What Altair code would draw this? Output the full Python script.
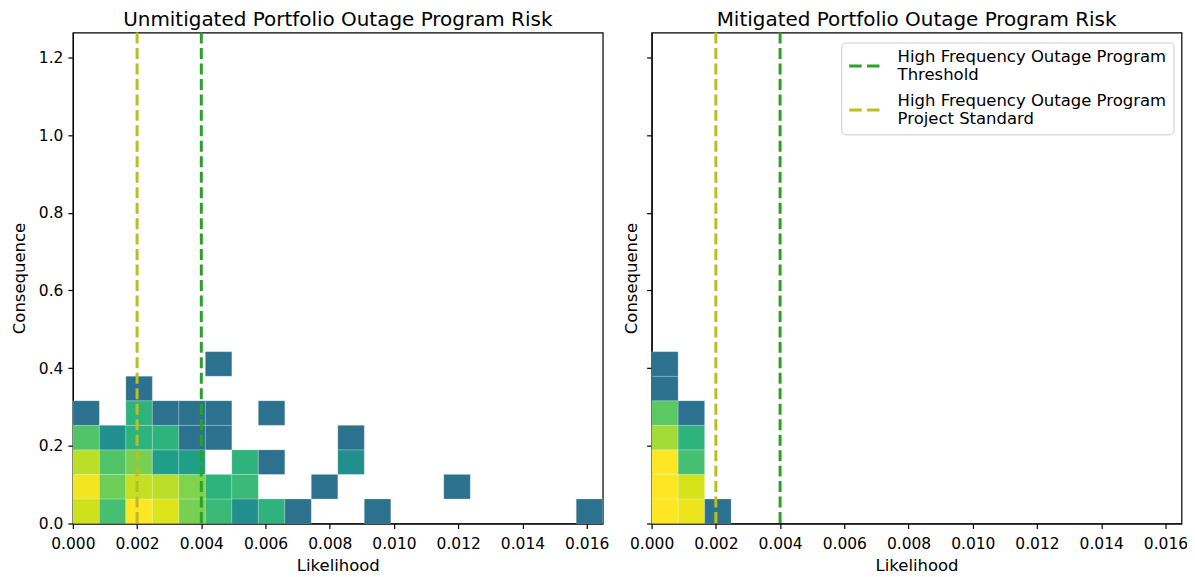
import altair as alt
import pandas as pd

# Histogram definition (bin ranges and number of bins)
X_RANGE = [0.0, 0.0165]
Y_RANGE = [0.0, 1.264]
N_BINS_X = 20
N_BINS_Y = 20

X_TICKS = [0.000, 0.002, 0.004, 0.006, 0.008, 0.010, 0.012, 0.014, 0.016]
Y_TICKS = [0.0, 0.2, 0.4, 0.6, 0.8, 1.0, 1.2]

# Unmitigated portfolio: occupied 2D-histogram cells (bin column, bin row, count)
unmit_col = [0, 0, 0, 0, 0,
             1, 1, 1, 1,
             2, 2, 2, 2, 2, 2,
             3, 3, 3, 3, 3,
             4, 4, 4, 4, 4,
             5, 5, 5, 5, 5,
             6, 6, 6,
             7, 7, 7,
             8, 9, 10, 10, 11, 14, 19]
unmit_row = [0, 1, 2, 3, 4,
             0, 1, 2, 3,
             0, 1, 2, 3, 4, 5,
             0, 1, 2, 3, 4,
             0, 1, 2, 3, 4,
             0, 1, 3, 4, 6,
             0, 1, 2,
             0, 2, 4,
             0, 1, 2, 3, 0, 1, 0]
unmit_count = [26, 36, 22, 8, 1,
               7, 11, 8, 2,
               40, 24, 12, 5, 5, 1,
               30, 22, 3, 5, 1,
               12, 13, 3, 1, 1,
               6, 5, 1, 1, 1,
               2, 6, 5,
               5, 1, 1,
               1, 1, 2, 1, 1, 1, 1]

# Mitigated portfolio
mit_col = [0, 0, 0, 0, 0, 0, 0, 1, 1, 1, 1, 1, 2]
mit_row = [0, 1, 2, 3, 4, 5, 6, 0, 1, 2, 3, 4, 0]
mit_count = [40, 40, 40, 18, 9, 1, 1, 34, 28, 7, 5, 1, 1]

# Reference lines
LINE_LABELS = ["High Frequency Outage Program|Threshold",
               "High Frequency Outage Program|Project Standard"]
LINE_VALUES = [0.004, 0.002]
LINE_COLORS = ["#2ca02c", "#bcbd22"]

FONT = "DejaVu Sans"
DASH = [11, 4.5]
PANEL_W = 531
PANEL_H = 492


def cells(cols, rows, counts):
    xw = (X_RANGE[1] - X_RANGE[0]) / N_BINS_X
    yw = (Y_RANGE[1] - Y_RANGE[0]) / N_BINS_Y
    return pd.DataFrame({
        "x0": [X_RANGE[0] + c * xw for c in cols],
        "x1": [X_RANGE[0] + (c + 1) * xw for c in cols],
        "y0": [Y_RANGE[0] + r * yw for r in rows],
        "y1": [Y_RANGE[0] + (r + 1) * yw for r in rows],
        "count": counts,
    })


lines_df = pd.DataFrame({"x": LINE_VALUES, "label": LINE_LABELS})


def panel(df, title, show_labels, show_legend):
    x_axis = alt.Axis(values=X_TICKS, format=".3f", title="Likelihood",
                      labelOverlap=False, labelFlush=False)
    if show_labels:
        y_axis = alt.Axis(values=Y_TICKS, format=".1f", title="Consequence",
                          titlePadding=11, labelPadding=5,
                          labelOverlap=False, labelFlush=False)
    else:
        y_axis = alt.Axis(values=Y_TICKS, format=".1f", title="Consequence",
                          labels=False, titlePadding=6.5, labelPadding=0)
    xs = alt.Scale(domain=X_RANGE, nice=False, zero=False)
    ys = alt.Scale(domain=Y_RANGE, nice=False, zero=False)
    heat = alt.Chart(df).mark_rect(stroke="white", strokeWidth=0.4, strokeOpacity=0.5).encode(
        x=alt.X("x0:Q", scale=xs, axis=x_axis),
        x2="x1:Q",
        y=alt.Y("y0:Q", scale=ys, axis=y_axis),
        y2="y1:Q",
        fill=alt.Fill("count:Q",
                      scale=alt.Scale(type="log", domain=[1, 40],
                                      scheme=alt.SchemeParams(name="viridis", extent=[0.375, 1])),
                      legend=None),
    )
    if show_legend:
        leg = alt.Legend(title=None, orient="none", legendX=190, legendY=10,
                         symbolType="stroke", symbolSize=961, symbolStrokeWidth=3,
                         symbolDash=[12.5, 5.3], labelFontSize=16.5, labelFont=FONT,
                         labelColor="black", labelBaseline="line-bottom",
                         labelExpr="split(datum.label, '|')", labelOffset=16,
                         padding=6.5, strokeColor="#cccccc", fillColor="rgba(255,255,255,0.8)",
                         cornerRadius=4, labelLimit=500, rowPadding=9)
    else:
        leg = None
    rules = alt.Chart(lines_df).mark_rule(strokeDash=DASH, strokeWidth=3).encode(
        x=alt.X("x:Q", scale=xs, axis=x_axis),
        stroke=alt.Stroke("label:N", scale=alt.Scale(domain=LINE_LABELS, range=LINE_COLORS),
                          legend=leg),
    )
    return alt.layer(heat, rules).properties(
        width=PANEL_W, height=PANEL_H,
        title=alt.TitleParams(title, fontSize=20, fontWeight="normal", font=FONT,
                              color="black", anchor="middle", offset=1),
    )


left = panel(cells(unmit_col, unmit_row, unmit_count),
             "Unmitigated Portfolio Outage Program Risk", True, False)
right = panel(cells(mit_col, mit_row, mit_count),
              "Mitigated Portfolio Outage Program Risk", False, True)

chart = alt.hconcat(left, right, spacing=13).resolve_scale(stroke="independent").properties(
    padding={"left": 2, "top": 0, "right": -1.5, "bottom": 0}
).configure(font=FONT).configure_view(
    stroke="black", strokeWidth=1.2
).configure_axis(
    grid=False, labelFont=FONT, titleFont=FONT, labelFontSize=15.5, titleFontSize=16.5,
    titleFontWeight="normal", labelColor="black", titleColor="black",
    tickColor="black", domainColor="black", tickSize=5,
    domainWidth=1.2, tickWidth=1.2, zindex=1,
).configure_axisX(labelPadding=8, titlePadding=6)

chart.save("out.html", embed_options={"renderer": "svg", "actions": False})
